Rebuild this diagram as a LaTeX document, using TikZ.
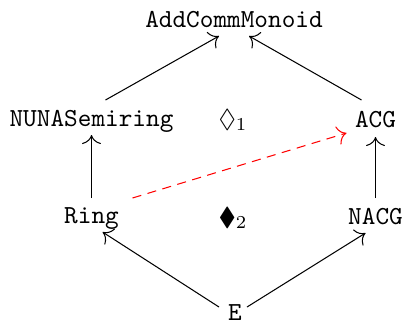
\documentclass[tikz,border=0pt]{standalone}
\usepackage{amssymb}
\usetikzlibrary{calc,arrows.meta}
\begin{document}
\begin{tikzpicture}[x=0.3846pt, y=-0.3846pt,
  >={Computer Modern Rightarrow[scale=1.4]},
  obj/.style={font=\ttfamily, anchor=base, inner sep=0pt},
  celllabel/.style={anchor=base, inner sep=0pt},
  arr/.style={->, line width=0.4pt},
  extra/.style={->, red, dash pattern=on 3.5pt off 2.5pt, line width=0.4pt}]
  \useasboundingbox (0,0) rectangle (403,322);
  % objects of the diagram
  \node[obj] (acm)  at (234,27)  {AddCommMonoid};
  \node[obj] (nuna) at (91.5,126)  {NUNASemiring};
  \node[obj] (acg)  at (375.5,127) {ACG};
  \node[obj] (ring) at (91.5,223)  {Ring};
  \node[obj] (nacg) at (375.5,224) {NACG};
  \node[obj] (e)    at (235,320) {E};
  % cell labels
  \node[celllabel] (d1) at (233,127) {$\lozenge_1$};
  \node[celllabel] (d2) at (233,225) {$\blacklozenge_2$};
  % morphisms
  \draw[arr] ($(nuna.base)+(14,-26)$) -- ($(acm.base)+(-15,9)$);
  \draw[arr] ($(acg.base)+(-14,-27)$) -- ($(acm.base)+(15,9)$);
  \draw[arr] ($(ring.base)+(0,-25)$) -- ($(nuna.base)+(0,9)$);
  \draw[arr] ($(nacg.base)+(0,-26)$) -- ($(acg.base)+(0,10)$);
  \draw[arr] ($(e.base)+(-16,-13)$) -- ($(ring.base)+(11,9)$);
  \draw[arr] ($(e.base)+(12,-13)$) -- ($(nacg.base)+(-10,9)$);
  \draw[extra] ($(ring.base)+(41,-25)$) -- ($(acg.base)+(-29,6)$);
\end{tikzpicture}
\end{document}
